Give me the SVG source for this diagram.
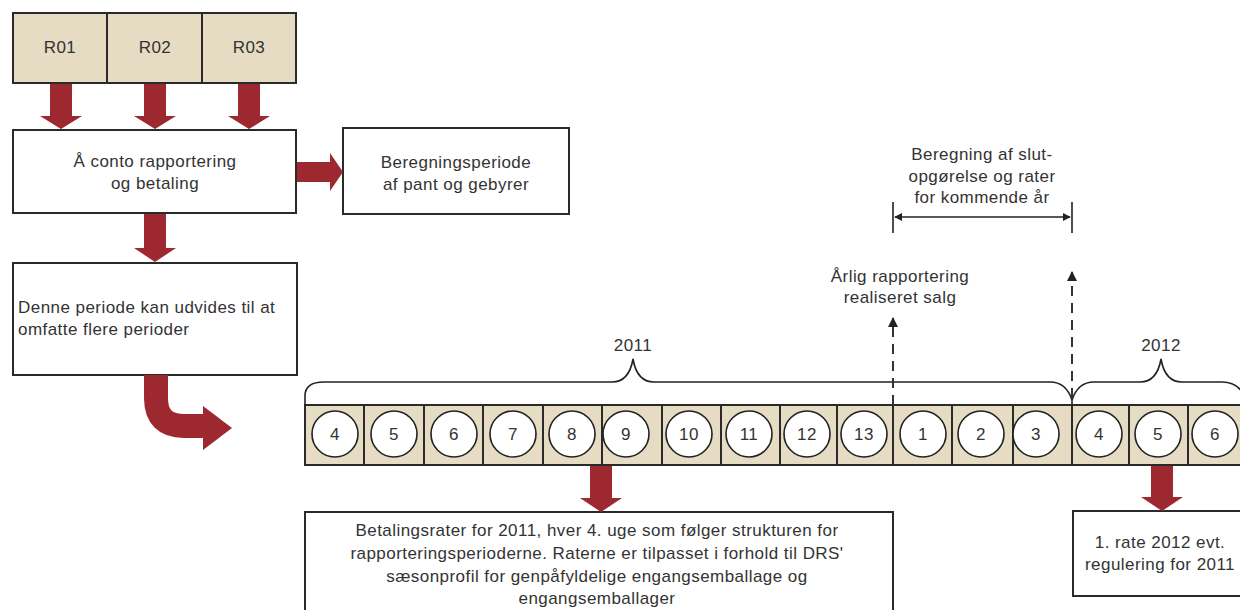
<svg xmlns="http://www.w3.org/2000/svg" width="1240" height="610" viewBox="0 0 1240 610">
<style>
  text { font-family: "Liberation Sans", Arial, sans-serif; font-size: 17px; fill: #333; letter-spacing: 0.45px; }
  .c { text-anchor: middle; }
  .box { fill: #fff; stroke: #2a2a2a; stroke-width: 2; }
  .cell { fill: #E5DCC3; stroke: #2a2a2a; stroke-width: 2; }
  .circ { fill: #fff; stroke: #222; stroke-width: 1.6; }
  .red { fill: #9E2830; stroke: none; }
  .redline { fill: none; stroke: #9E2830; stroke-width: 24; }
  .brace { fill: none; stroke: #222; stroke-width: 1.6; }
  .dash { fill: none; stroke: #333; stroke-width: 2; stroke-dasharray: 10 7; }
  .thin { fill: none; stroke: #222; stroke-width: 1.6; }
</style>
<defs>
  <marker id="ah" viewBox="0 0 10 10" refX="9" refY="5" markerWidth="5" markerHeight="5" orient="auto-start-reverse">
    <path d="M0 0 L10 5 L0 10 Z" fill="#222"/>
  </marker>
</defs>

<g id="r-boxes">
  <rect class="cell" x="13" y="13" width="94" height="70"/>
  <rect class="cell" x="107" y="13" width="95" height="70"/>
  <rect class="cell" x="202" y="13" width="94" height="70"/>
  <text class="c" x="60" y="53">R01</text>
  <text class="c" x="155" y="53">R02</text>
  <text class="c" x="249" y="53">R03</text>
</g>

<g id="aconto">
  <rect class="box" x="13" y="130" width="283" height="83"/>
  <text class="c" x="155" y="167">Å conto rapportering</text>
  <text class="c" x="155" y="189">og betaling</text>
</g>

<g id="beregningsperiode">
  <rect class="box" x="343" y="128" width="226" height="86"/>
  <text class="c" x="456" y="168">Beregningsperiode</text>
  <text class="c" x="456" y="190">af pant og gebyrer</text>
</g>

<g id="denne-periode">
  <rect class="box" x="13" y="263" width="284" height="112"/>
  <text x="18" y="313">Denne periode kan udvides til at</text>
  <text x="18" y="335">omfatte flere perioder</text>
</g>

<g id="timeline">
  <rect class="cell" x="305" y="405" width="59" height="60"/>
  <rect class="cell" x="364" y="405" width="60" height="60"/>
  <rect class="cell" x="424" y="405" width="59" height="60"/>
  <rect class="cell" x="483" y="405" width="60" height="60"/>
  <rect class="cell" x="543" y="405" width="59" height="60"/>
  <rect class="cell" x="602" y="405" width="60" height="60"/>
  <rect class="cell" x="662" y="405" width="59" height="60"/>
  <rect class="cell" x="721" y="405" width="59" height="60"/>
  <rect class="cell" x="780" y="405" width="57" height="60"/>
  <rect class="cell" x="837" y="405" width="56" height="60"/>
  <rect class="cell" x="893" y="405" width="59" height="60"/>
  <rect class="cell" x="952" y="405" width="61" height="60"/>
  <rect class="cell" x="1013" y="405" width="59" height="60"/>
  <rect class="cell" x="1072" y="405" width="57" height="60"/>
  <rect class="cell" x="1129" y="405" width="59" height="60"/>
  <rect class="cell" x="1188" y="405" width="59" height="60"/>
  <circle class="circ" cx="335" cy="434" r="23"/>
  <circle class="circ" cx="394" cy="434" r="23"/>
  <circle class="circ" cx="454" cy="434" r="23"/>
  <circle class="circ" cx="513" cy="434" r="23"/>
  <circle class="circ" cx="572" cy="434" r="23"/>
  <circle class="circ" cx="626" cy="434" r="23"/>
  <circle class="circ" cx="689" cy="434" r="23"/>
  <circle class="circ" cx="749" cy="434" r="23"/>
  <circle class="circ" cx="807" cy="434" r="23"/>
  <circle class="circ" cx="864" cy="434" r="23"/>
  <circle class="circ" cx="923" cy="434" r="23"/>
  <circle class="circ" cx="981" cy="434" r="23"/>
  <circle class="circ" cx="1036" cy="434" r="23"/>
  <circle class="circ" cx="1099" cy="434" r="23"/>
  <circle class="circ" cx="1158" cy="434" r="23"/>
  <circle class="circ" cx="1215" cy="434" r="23"/>
  <text class="c" x="335" y="440">4</text>
  <text class="c" x="394" y="440">5</text>
  <text class="c" x="454" y="440">6</text>
  <text class="c" x="513" y="440">7</text>
  <text class="c" x="572" y="440">8</text>
  <text class="c" x="626" y="440">9</text>
  <text class="c" x="689" y="440">10</text>
  <text class="c" x="749" y="440">11</text>
  <text class="c" x="807" y="440">12</text>
  <text class="c" x="864" y="440">13</text>
  <text class="c" x="923" y="440">1</text>
  <text class="c" x="981" y="440">2</text>
  <text class="c" x="1036" y="440">3</text>
  <text class="c" x="1099" y="440">4</text>
  <text class="c" x="1158" y="440">5</text>
  <text class="c" x="1215" y="440">6</text>
</g>

<g id="year-2011">
  <path class="brace" d="M305 405 V396 Q305 382 324 382 H612 Q629 382 633 359 Q637 382 654 382 H1050 Q1066 382 1072 400"/>
  <text class="c" x="633" y="351">2011</text>
</g>

<g id="year-2012">
  <path class="brace" d="M1072 405 V400 Q1078 382 1094 382 H1140 Q1157 382 1161 359 Q1165 382 1182 382 H1222 Q1240 382 1246 400"/>
  <text class="c" x="1161" y="351">2012</text>
</g>

<g id="beregning-slut">
  <text class="c" x="982" y="160">Beregning af slut-</text>
  <text class="c" x="982" y="182">opgørelse og rater</text>
  <text class="c" x="982" y="203">for kommende år</text>
</g>

<g id="aarlig">
  <text class="c" x="900" y="282">Årlig rapportering</text>
  <text class="c" x="900" y="303">realiseret salg</text>
</g>

<g id="betalingsrater">
  <rect class="box" x="305" y="512" width="588" height="110"/>
  <text class="c" x="597" y="536">Betalingsrater for 2011, hver 4. uge som følger strukturen for</text>
  <text class="c" x="597" y="559">rapporteringsperioderne. Raterne er tilpasset i forhold til DRS'</text>
  <text class="c" x="597" y="582">sæsonprofil for genpåfyldelige engangsemballage og</text>
  <text class="c" x="597" y="604">engangsemballager</text>
</g>

<g id="rate-2012">
  <rect class="box" x="1073" y="511" width="180" height="85"/>
  <text class="c" x="1160" y="548">1. rate 2012 evt.</text>
  <text class="c" x="1160" y="570">regulering for 2011</text>
</g>

<g id="connectors">
  <path class="red" d="M50 84 H72 V116 H82 L61 129 L40 116 H50 Z"/>
  <path class="red" d="M144 84 H166 V116 H176 L155 129 L134 116 H144 Z"/>
  <path class="red" d="M238 84 H260 V116 H270 L249 129 L228 116 H238 Z"/>
  <path class="red" d="M144 214 H166 V248 H176 L155 262 L134 248 H144 Z"/>
  <path class="red" d="M297 162 H330 V153 L343 172 L330 191 V182 H297 Z"/>
  <path class="redline" d="M156 375 V398 Q156 426 184 426 H206"/>
  <path class="red" d="M203 406 L232 428 L203 450 Z"/>
  <path class="red" d="M590 466 H612 V498 H622 L601 512 L580 498 H590 Z"/>
  <path class="red" d="M1151 466 H1173 V497 H1183 L1162 511 L1141 497 H1151 Z"/>
  <path class="dash" d="M893 405 V318" marker-end="url(#ah)"/>
  <path class="dash" d="M1072 398 V272" marker-end="url(#ah)"/>
  <path class="thin" d="M893 202 V233 M1072 202 V233"/>
  <path class="thin" d="M895 217 H1070" marker-start="url(#ah)" marker-end="url(#ah)"/>
</g>
</svg>
